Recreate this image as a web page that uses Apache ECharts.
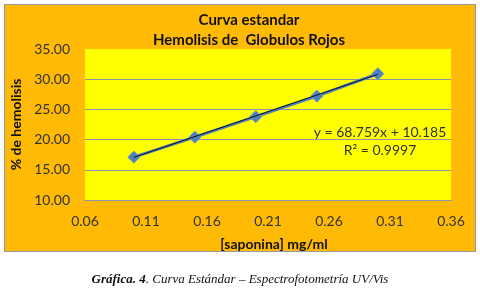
<!DOCTYPE html>
<html>
<head>
<meta charset="utf-8">
<script src="https://cdn.jsdelivr.net/npm/echarts@6/dist/echarts.min.js"></script>
<style>
  html, body { margin: 0; padding: 0; background: #fff; }
  #chart { width: 480px; height: 288px; }
</style>
</head>
<body>
<div id="chart"></div>
<script>
// datos
var saponina = [0.10, 0.15, 0.20, 0.25, 0.30];
var hemolisis = [17.1, 20.4, 23.8, 27.2, 30.9];
// linea de tendencia (extremos)
var trendX = [0.10, 0.30];
var trendY = [17.06, 30.81];
var yTicks = [10, 15, 20, 25, 30, 35];
var xTicks = [0.06, 0.11, 0.16, 0.21, 0.26, 0.31, 0.36];

var font = "Lato";
var chart = echarts.init(document.getElementById("chart"));

var options = {
  backgroundColor: "#fff",
  animation: false,
  graphic: [
    {
      type: "rect",
      z: -10,
      shape: { x: 4.5, y: 4.5, width: 471, height: 247 },
      style: { fill: "#FFBA06", stroke: "#9a9a9a", lineWidth: 1 },
    },
    {
      type: "text",
      left: "center",
      top: 273,
      style: {
        text: "{b|Gráfica. 4}{n|. Curva Estándar – Espectrofotometría UV/Vis}",
        rich: {
          b: { fontFamily: "Liberation Serif", fontStyle: "italic", fontWeight: "bold", fontSize: 13, fill: "#111" },
          n: { fontFamily: "Liberation Serif", fontStyle: "italic", fontSize: 13, fill: "#111" },
        },
      },
    },
    {
      type: "text",
      x: 380,
      y: 141,
      style: {
        text: "y = 68.759x + 10.185\nR² = 0.9997",
        align: "center",
        verticalAlign: "middle",
        lineHeight: 18,
        fontFamily: font,
        fontSize: 14,
        fill: "#333",
      },
    },
  ],
  title: {
    text: "Curva estandar\nHemolisis de  Globulos Rojos",
    left: 244,
    textAlign: "center",
    top: 5,
    textStyle: {
      fontFamily: font,
      fontWeight: "bold",
      fontSize: 15,
      lineHeight: 20,
      color: "#111",
    },
  },
  grid: { left: 85, right: 29, top: 49, bottom: 88, backgroundColor: "#FFFF00", show: true, borderWidth: 0 },
  xAxis: {
    type: "value",
    min: xTicks[0],
    max: xTicks[xTicks.length - 1],
    interval: 0.05,
    name: "[saponina] mg/ml",
    nameLocation: "middle",
    nameGap: 37,
    nameTextStyle: { fontFamily: font, fontWeight: "bold", fontSize: 14, color: "#111", padding: [0, 0, 0, 12] },
    axisLine: { show: true, lineStyle: { color: "#8a96a8", width: 1 } },
    axisTick: { show: false },
    splitLine: { show: false },
    axisLabel: {
      margin: 14,
      fontFamily: font,
      fontSize: 14,
      color: "#333",
      formatter: function (v) { return v.toFixed(2); },
    },
  },
  yAxis: {
    type: "value",
    min: yTicks[0],
    max: yTicks[yTicks.length - 1],
    interval: 5,
    name: "% de hemolisis",
    nameLocation: "middle",
    nameGap: 57,
    nameTextStyle: { fontFamily: font, fontWeight: "bold", fontSize: 14, color: "#111" },
    axisLine: { show: false },
    axisTick: { show: false },
    splitLine: {
      lineStyle: {
        color: ["#8a96a8", "#8a96a8", "#8a96a8", "#8a96a8", "#8a96a8", "rgba(0,0,0,0)"],
        width: 1,
      },
    },
    axisLabel: {
      margin: 15,
      fontFamily: font,
      fontSize: 14,
      color: "#333",
      formatter: function (v) { return v.toFixed(2); },
    },
  },
  series: [
    {
      name: "hemolisis",
      type: "line",
      data: saponina.map(function (x, i) { return [x, hemolisis[i]]; }),
      symbol: "diamond",
      symbolSize: 12,
      lineStyle: { color: "#4F81BD", width: 3 },
      itemStyle: { color: "#4F81BD", borderColor: "#6b95c9", borderWidth: 1 },
      z: 2,
    },
    {
      name: "tendencia",
      type: "line",
      data: trendX.map(function (x, i) { return [x, trendY[i]]; }),
      symbol: "none",
      lineStyle: { color: "#111", width: 1 },
      z: 3,
    },
  ],
};

chart.setOption(options);
</script>
</body>
</html>
